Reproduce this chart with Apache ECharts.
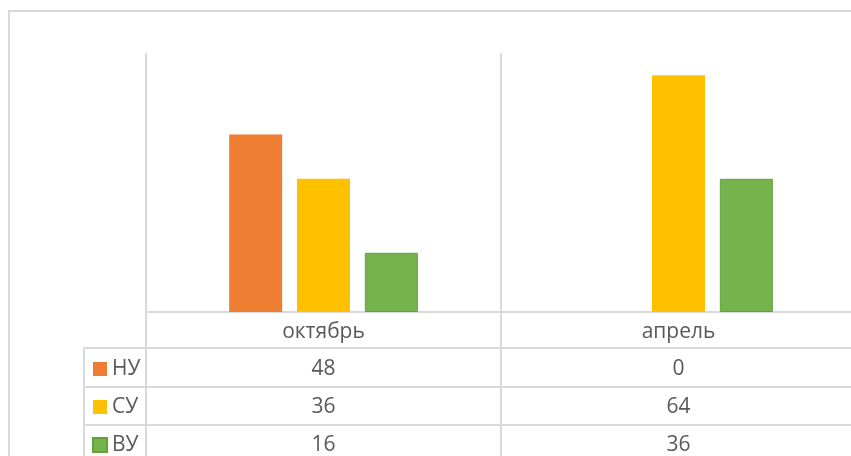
<!DOCTYPE html>
<html>
<head>
<meta charset="utf-8">
<script src="https://cdn.jsdelivr.net/npm/echarts@6/dist/echarts.min.js"></script>
<style>
  html, body { margin: 0; padding: 0; background: #fff; }
  #chart { width: 851px; height: 456px; }
</style>
</head>
<body>
<div id="chart"></div>
<script>
const categories = ['октябрь', 'апрель']
const seriesNames = ['НУ', 'СУ', 'ВУ']
const nuValues = [48, 0]
const suValues = [36, 64]
const vuValues = [16, 36]

const colors = ['#ed7d31', '#ffc000', '#75b44d']
const gridColor = '#d9d9d9'
const textColor = '#595959'
const font = 'Open Sans'

const chart = echarts.init(document.getElementById('chart'))

// one extra category axis per table row, labels are the series values
function tableRow(values, offset) {
  return {
    type: 'category',
    gridIndex: 0,
    position: 'bottom',
    offset: offset,
    data: values.map(String),
    axisLine: { show: false },
    axisTick: { show: false },
    splitLine: { show: false },
    axisLabel: {
      interval: 0,
      margin: 0,
      verticalAlign: 'middle',
      color: textColor,
      fontFamily: font,
      fontSize: 21
    }
  }
}

function line(x1, y1, x2, y2) {
  return {
    type: 'line',
    silent: true,
    shape: { x1: x1, y1: y1, x2: x2, y2: y2 },
    style: { stroke: gridColor, lineWidth: 2 }
  }
}

chart.setOption({
  animation: false,
  textStyle: { fontFamily: font },
  grid: { left: 146, top: 53, width: 710, height: 259, containLabel: false, outerBoundsMode: 'none' },
  legend: {
    orient: 'vertical',
    left: 92,
    top: 358,
    height: 200,
    padding: 0,
    icon: 'rect',
    itemWidth: 14,
    itemHeight: 14,
    itemGap: 16,
    selectedMode: false,
    data: seriesNames,
    textStyle: { color: textColor, fontSize: 21, lineHeight: 22, fontFamily: font }
  },
  xAxis: [
    {
      type: 'category',
      data: categories,
      axisLine: { lineStyle: { color: gridColor, width: 2 } },
      axisTick: { show: false },
      splitLine: { show: true, interval: 0, lineStyle: { color: gridColor, width: 2 } },
      axisLabel: {
        interval: 0,
        margin: 20,
        verticalAlign: 'middle',
        color: textColor,
        fontFamily: font,
        fontSize: 21
      }
    },
    tableRow(nuValues, 57),
    tableRow(suValues, 95),
    tableRow(vuValues, 133)
  ],
  yAxis: { type: 'value', min: 0, max: 70, show: false },
  series: [
    { name: seriesNames[0], type: 'bar', data: nuValues, barWidth: 53, barGap: '28%', itemStyle: { color: colors[0] } },
    { name: seriesNames[1], type: 'bar', data: suValues, barWidth: 53, barGap: '28%', itemStyle: { color: colors[1] } },
    { name: seriesNames[2], type: 'bar', data: vuValues, barWidth: 53, barGap: '28%', itemStyle: { color: colors[2], borderColor: '#63a03c', borderWidth: 1 } }
  ],
  graphic: [
    {
      type: 'rect',
      silent: true,
      shape: { x: 9, y: 11, width: 900, height: 500 },
      style: { fill: null, stroke: gridColor, lineWidth: 2 }
    },
    line(84, 348, 860, 348),
    line(84, 387, 860, 387),
    line(84, 425, 860, 425),
    line(84, 348, 84, 460),
    line(146, 312, 146, 460),
    line(501, 312, 501, 460)
  ]
})
</script>
</body>
</html>
